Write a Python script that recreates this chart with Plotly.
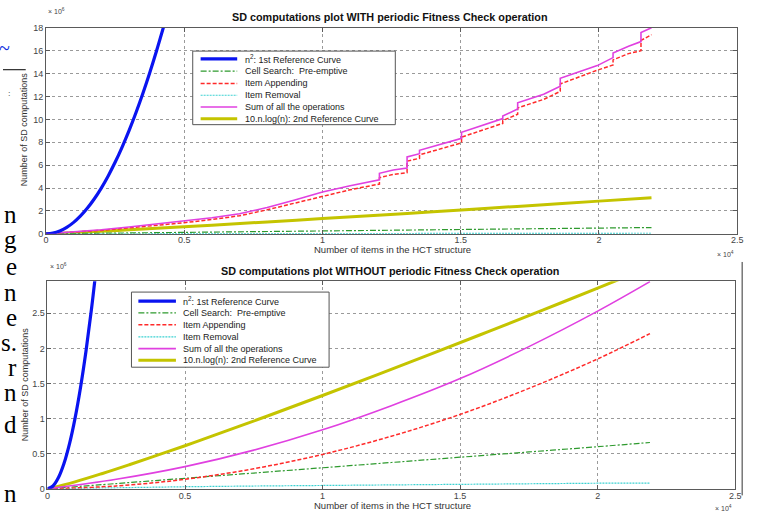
import plotly.graph_objects as go

W, H = 760, 521

# ---------------- data (x in units of 1e4 items, y in units of 1e6 computations) ----------------
x_ticks = [0, 0.5, 1, 1.5, 2, 2.5]
x_tick_labels = ["0", "0.5", "1", "1.5", "2", "2.5"]
top_y_ticks = [0, 2, 4, 6, 8, 10, 12, 14, 16, 18]
top_y_tick_labels = ["0", "2", "4", "6", "8", "10", "12", "14", "16", "18"]
bot_y_ticks = [0, 0.5, 1, 1.5, 2, 2.5]
bot_y_tick_labels = ["0", "0.5", "1", "1.5", "2", "2.5"]

series_names = [
    "n<sup>2</sup>: 1st Reference Curve",
    "Cell Search:  Pre-emptive",
    "Item Appending",
    "Item Removal",
    "Sum of all the operations",
    "10.n.log(n): 2nd Reference Curve",
]

# --- top plot: WITH periodic fitness check ---
top_n2_x = [0, 0.025, 0.05, 0.075, 0.1, 0.125, 0.15, 0.175, 0.2, 0.225, 0.25, 0.275, 0.3,
            0.325, 0.35, 0.375, 0.4, 0.425]
top_n2_y = [0, 0.0625, 0.25, 0.5625, 1.0, 1.5625, 2.25, 3.0625, 4.0, 5.0625, 6.25, 7.5625, 9.0,
            10.5625, 12.25, 14.0625, 16.0, 18.0625]

top_cell_x = [0, 0.5, 1.0, 1.5, 2.0, 2.19]
top_cell_y = [0, 0.13, 0.26, 0.38, 0.50, 0.55]

top_removal_x = [0, 0.5, 1.0, 1.5, 2.0, 2.19]
top_removal_y = [0, 0.02, 0.03, 0.04, 0.05, 0.05]

top_append_x = [0, 0.1, 0.2, 0.3, 0.4, 0.5, 0.6, 0.7, 0.8, 0.9, 1.0, 1.1, 1.206, 1.206, 1.256,
                1.306, 1.306, 1.351, 1.351, 1.503, 1.503, 1.652, 1.652, 1.706, 1.706, 1.80,
                1.86, 1.86, 1.994, 2.051, 2.051, 2.107, 2.152, 2.152, 2.19]
top_append_y = [0, 0.12, 0.30, 0.52, 0.74, 0.97, 1.25, 1.58, 2.10, 2.67, 3.30, 3.85, 4.35, 4.90,
                5.20, 5.35, 6.35, 6.60, 6.90, 7.95, 8.45, 9.65, 9.90, 10.45, 11.00, 11.75,
                12.45, 13.10, 14.30, 14.75, 15.20, 15.75, 16.00, 16.90, 17.40]

top_sum_x = [0, 0.1, 0.2, 0.3, 0.4, 0.5, 0.6, 0.7, 0.8, 0.9, 1.0, 1.1, 1.206, 1.206, 1.256,
             1.306, 1.306, 1.351, 1.351, 1.503, 1.503, 1.652, 1.652, 1.706, 1.706, 1.80,
             1.86, 1.86, 1.994, 2.051, 2.051, 2.107, 2.152, 2.152, 2.19]
top_sum_y = [0, 0.15, 0.35, 0.60, 0.85, 1.10, 1.40, 1.75, 2.30, 2.95, 3.65, 4.20, 4.72, 5.29,
             5.58, 5.75, 6.72, 7.00, 7.30, 8.35, 8.87, 10.07, 10.30, 10.90, 11.45, 12.20,
             12.90, 13.60, 14.70, 15.40, 15.80, 16.40, 16.80, 17.60, 18.00]

nlogn_x = [0, 0.1, 0.2, 0.3, 0.4, 0.5, 0.6, 0.8, 1.0, 1.2, 1.4, 1.6, 1.8, 2.0, 2.19]
nlogn_y = [0, 0.0997, 0.219, 0.347, 0.479, 0.614, 0.753, 1.037, 1.329, 1.626, 1.928, 2.235,
           2.544, 2.858, 3.16]

# --- bottom plot: WITHOUT periodic fitness check ---
bot_n2_x = [0, 0.02, 0.04, 0.06, 0.08, 0.10, 0.12, 0.14, 0.16, 0.18]
bot_n2_y = [0, 0.04, 0.16, 0.36, 0.64, 1.0, 1.44, 1.96, 2.56, 3.24]

bot_x = [0, 0.25, 0.5, 0.75, 1.0, 1.25, 1.5, 1.75, 2.0, 2.19]
bot_cell_y = [0, 0.075, 0.15, 0.225, 0.30, 0.375, 0.45, 0.525, 0.60, 0.66]
bot_removal_y = [0, 0.02, 0.03, 0.04, 0.05, 0.06, 0.06, 0.07, 0.08, 0.08]
bot_append_y = [0, 0.041, 0.136, 0.286, 0.49, 0.749, 1.06, 1.43, 1.85, 2.21]
bot_sum_y = [0, 0.136, 0.316, 0.551, 0.84, 1.184, 1.57, 2.025, 2.53, 2.95]

# ---------------- styles ----------------
BLUE = "#0a14f0"
GREEN = "#2e9a2e"
RED = "#ff2a2a"
CYAN = "#3cd2d2"
MAGENTA = "#e040e0"
YELLOW = "#c4c400"

styles = [
    dict(color=BLUE, width=3.2, dash="solid"),
    dict(color=GREEN, width=1.2, dash="6px,2px,2px,2px"),
    dict(color=RED, width=1.5, dash="4px,2px"),
    dict(color=CYAN, width=1.2, dash="2px,1px"),
    dict(color=MAGENTA, width=1.6, dash="solid"),
    dict(color=YELLOW, width=3.0, dash="solid"),
]

fig = go.Figure()

def add(x, y, i, xa, ya, smooth=False):
    fig.add_trace(go.Scatter(
        x=x, y=y, mode="lines", name=series_names[i], showlegend=False,
        line=dict(color=styles[i]["color"], width=styles[i]["width"], dash=styles[i]["dash"],
                  shape="spline" if smooth else "linear"),
        xaxis=xa, yaxis=ya, hoverinfo="skip"))

# top
add(nlogn_x, nlogn_y, 5, "x", "y", True)
add(top_removal_x, top_removal_y, 3, "x", "y")
add(top_cell_x, top_cell_y, 1, "x", "y")
add(top_append_x, top_append_y, 2, "x", "y")
add(top_sum_x, top_sum_y, 4, "x", "y")
add(top_n2_x, top_n2_y, 0, "x", "y", True)
# bottom
add(nlogn_x, nlogn_y, 5, "x2", "y2", True)
add(bot_x, bot_removal_y, 3, "x2", "y2")
add(bot_x, bot_cell_y, 1, "x2", "y2", True)
add(bot_x, bot_append_y, 2, "x2", "y2", True)
add(bot_x, bot_sum_y, 4, "x2", "y2", True)
add(bot_n2_x, bot_n2_y, 0, "x2", "y2", True)

def px(v):
    return v / W

def py(v):
    return 1 - v / H

FONT = "Liberation Sans, Arial, sans-serif"
TICKFONT = dict(family=FONT, size=9, color="#444444")

def axis_common():
    return dict(showline=True, linecolor="#5a5a5a", linewidth=1, mirror="ticks",
                ticks="inside", ticklen=4, tickcolor="#5a5a5a",
                showgrid=True, gridcolor="#9a9a9a", griddash="dot", gridwidth=1,
                zeroline=False, tickfont=TICKFONT, fixedrange=True)

fig.update_layout(
    width=W, height=H, autosize=False,
    margin=dict(l=0, r=0, t=0, b=0),
    paper_bgcolor="white", plot_bgcolor="white",
    showlegend=False,
    xaxis=dict(domain=[px(43.5), px(743)], range=[0, 2.5], tickvals=x_ticks,
               ticktext=x_tick_labels, anchor="y", ticklabelstandoff=-3, **axis_common()),
    yaxis=dict(domain=[py(233.3), py(23.3)], range=[0, 18], tickvals=top_y_ticks,
               ticktext=top_y_tick_labels, anchor="x", **axis_common()),
    xaxis2=dict(domain=[px(45), px(741)], range=[0, 2.5], tickvals=x_ticks,
                ticktext=x_tick_labels, anchor="y2", ticklabelstandoff=-2, **axis_common()),
    yaxis2=dict(domain=[py(493.3), py(281.7)], range=[0, 2.955], tickvals=bot_y_ticks,
                ticktext=bot_y_tick_labels, anchor="x2", **axis_common()),
)

ann = []
shapes = []

def text(x, y, s, size=9, color="#333333", xanchor="center", angle=0, family=FONT, yanchor="middle"):
    ann.append(dict(x=px(x), y=py(y), xref="paper", yref="paper", text=s, showarrow=False,
                    xanchor=xanchor, yanchor=yanchor, textangle=angle,
                    font=dict(family=family, size=size, color=color)))

# titles
text(392, 12, "<b>SD computations plot WITH periodic Fitness Check operation</b>", size=10.8, color="#111111")
text(392, 271, "<b>SD computations plot WITHOUT periodic Fitness Check operation</b>", size=10.8, color="#111111")
# axis labels
text(394, 249, "Number of items in the HCT structure", size=9.5, color="#333333")
text(394, 510, "Number of items in the HCT structure", size=9.5, color="#333333")
text(21, 127, "Number of SD computations", size=9, color="#333333", angle=-90)
text(22, 387, "Number of SD computations", size=9, color="#333333", angle=-90)
# exponents
text(44, 6, "× 10<sup>6</sup>", size=7, color="#444444", xanchor="left")
text(46, 266, "× 10<sup>6</sup>", size=7, color="#444444", xanchor="left")
text(742, 254, "× 10<sup>4</sup>", size=7, color="#444444", xanchor="right")
text(740, 513, "× 10<sup>4</sup>", size=7, color="#444444", xanchor="right")

# manual legends
def legend(x0, y0, x1, y1, line_x0, line_x1, text_x, rows):
    shapes.append(dict(type="rect", xref="paper", yref="paper", x0=px(x0), x1=px(x1),
                       y0=py(y1), y1=py(y0), line=dict(color="#555555", width=1),
                       fillcolor="white", layer="above"))
    for i, ry in enumerate(rows):
        st = styles[i]
        shapes.append(dict(type="line", xref="paper", yref="paper", x0=px(line_x0), x1=px(line_x1),
                           y0=py(ry), y1=py(ry), layer="above",
                           line=dict(color=st["color"], width=st["width"], dash=st["dash"])))
        text(text_x, ry, series_names[i], size=9, color="#222222", xanchor="left")

legend(192, 47, 397, 122, 200, 237, 243, [55, 67.5, 80, 92, 104, 116])
legend(130, 292.7, 330, 369.3, 137, 175, 180, [302, 314, 326, 338.3, 350.3, 362.3])

# cropped document text at the left edge
SERIF = "Liberation Serif, Times New Roman, serif"
for s, yy in [("n", 214), ("g", 239), ("e", 267), ("n", 293), ("e", 319), ("s.", 344),
              ("r", 370), ("n", 395), ("d", 428), ("n", 498)]:
    text(16, yy, s, size=25, color="#000000", xanchor="right", family=SERIF)
text(9, 44, "~", size=20, color="#1030e0", xanchor="right", family=SERIF)
shapes.append(dict(type="line", xref="paper", yref="paper", x0=0, x1=px(23),
                   y0=py(66), y1=py(66), line=dict(color="#000000", width=1)))
text(7, 90, ":", size=9, color="#333333", xanchor="center", family=SERIF)
# page border on the right
shapes.append(dict(type="line", xref="paper", yref="paper", x0=px(748), x1=px(748),
                   y0=py(500), y1=py(262), line=dict(color="#333333", width=1)))

fig.update_layout(annotations=ann, shapes=shapes)
fig.write_html("out.html", config={"displayModeBar": False},
               post_script="document.body.style.margin='0';document.body.style.overflow='hidden';")
